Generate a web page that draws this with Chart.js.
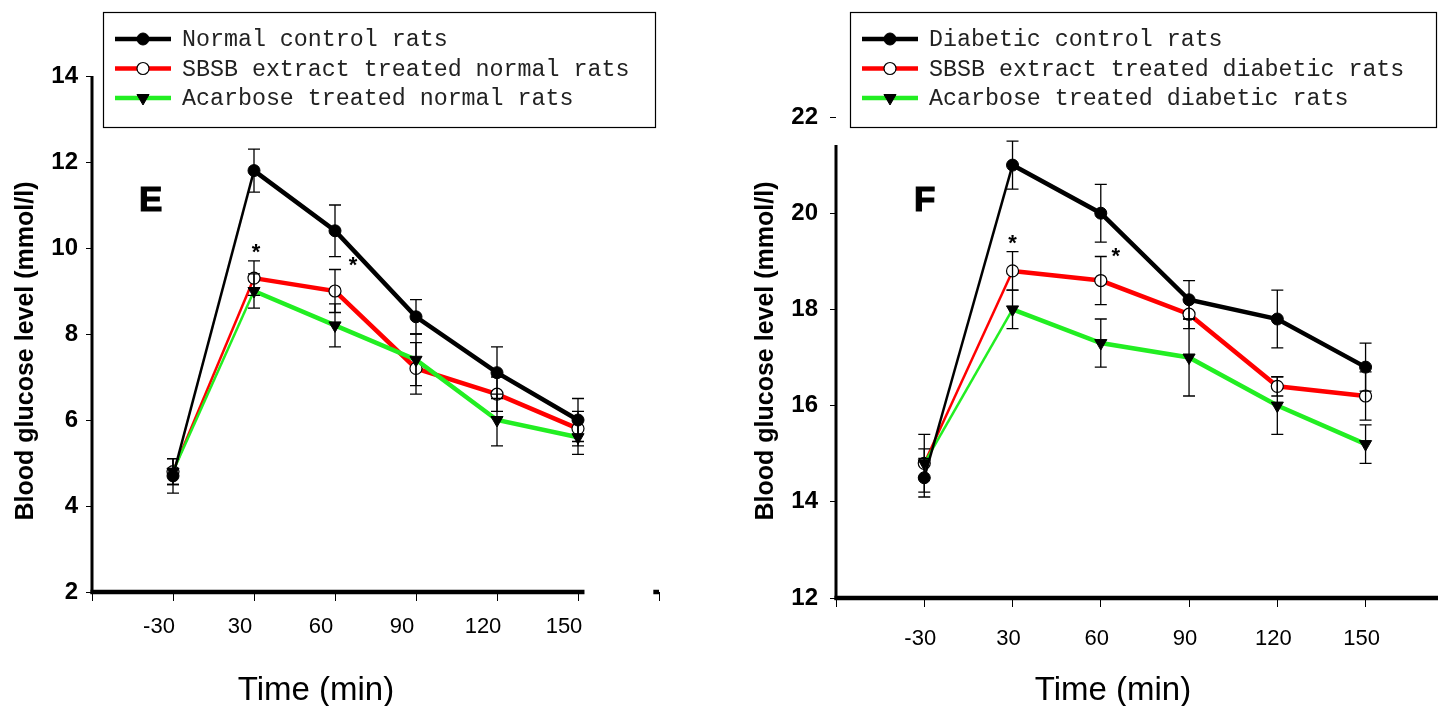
<!DOCTYPE html>
<html>
<head>
<meta charset="utf-8">
<script src="https://cdn.jsdelivr.net/npm/chart.js@4.4.1/dist/chart.umd.min.js"></script>
<style>
  html, body { margin: 0; padding: 0; background: #fff; }
  body { width: 1438px; height: 706px; position: relative; overflow: hidden; }
  .panel { position: absolute; top: 0; height: 706px; }
  #panelE { left: 0; width: 700px; }
  #panelF { left: 720px; width: 718px; }
</style>
</head>
<body>
<div class="panel" id="panelE"><canvas id="chartE" width="700" height="706"></canvas></div>
<div class="panel" id="panelF"><canvas id="chartF" width="718" height="706"></canvas></div>
<script>
// time points (min)
var timeLabels = ['-30', '30', '60', '90', '120', '150'];

// panel E - normal rats
var normalControl = [4.7, 11.8, 10.4, 8.4, 7.1, 6.0];
var normalControlErr = [0.4, 0.5, 0.6, 0.4, 0.6, 0.5];
var normalSbsb = [4.8, 9.3, 9.0, 7.2, 6.6, 5.8];
var normalSbsbErr = [0.3, 0.4, 0.5, 0.6, 0.4, 0.4];
var normalAcarbose = [4.8, 9.0, 8.2, 7.4, 6.0, 5.6];
var normalAcarboseErr = [0.3, 0.4, 0.5, 0.6, 0.6, 0.4];
var normalTicks = [2, 4, 6, 8, 10, 12, 14];

// panel F - diabetic rats
var diabeticControl = [14.5, 21.0, 20.0, 18.2, 17.8, 16.8];
var diabeticControlErr = [0.4, 0.5, 0.6, 0.4, 0.6, 0.5];
var diabeticSbsb = [14.8, 18.8, 18.6, 17.9, 16.4, 16.2];
var diabeticSbsbErr = [0.3, 0.4, 0.5, 0.3, 0.2, 0.5];
var diabeticAcarbose = [14.8, 18.0, 17.3, 17.0, 16.0, 15.2];
var diabeticAcarboseErr = [0.6, 0.4, 0.5, 0.8, 0.6, 0.4];
var diabeticTicks = [12, 14, 16, 18, 20, 22];

// significant points (index into timeLabels) marked with *
var starIndexes = [1, 2];

var legendE = ['Normal control rats', 'SBSB extract treated normal rats', 'Acarbose treated normal rats'];
var legendF = ['Diabetic control rats', 'SBSB extract treated diabetic rats', 'Acarbose treated diabetic rats'];

function toPoints(values) {
    return values.map(function(v, i) { return { x: i + 1, y: v }; });
}

// first segment (from -30) is drawn thinner in the original
function segWidth(ctx) {
    return ctx.p0DataIndex === 0 ? 2.5 : 4.5;
}

function makeDatasets(control, controlErr, sbsb, sbsbErr, acarbose, acarboseErr, names) {
    return [
        {
            label: names[0], data: toPoints(control), errors: controlErr,
            borderColor: '#000000', backgroundColor: '#000000', order: 0,
            pointStyle: 'circle', pointRadius: 6, pointBorderWidth: 1,
            pointBorderColor: '#000', pointBackgroundColor: '#000'
        },
        {
            label: names[1], data: toPoints(sbsb), errors: sbsbErr,
            borderColor: '#ff0000', backgroundColor: '#ff0000', order: 2,
            pointStyle: 'circle', pointRadius: 6, pointBorderWidth: 1.2,
            pointBorderColor: '#000', pointBackgroundColor: '#fff'
        },
        {
            label: names[2], data: toPoints(acarbose), errors: acarboseErr,
            borderColor: '#22ee22', backgroundColor: '#22ee22', order: 1,
            pointStyle: 'triangle', pointRotation: 180, pointRadius: 7, pointBorderWidth: 1,
            pointBorderColor: '#000', pointBackgroundColor: '#000'
        }
    ];
}

var errorBars = {
    id: 'errorBars',
    afterDatasetsDraw: function(chart) {
        var ctx = chart.ctx;
        var xs = chart.scales.x, ys = chart.scales.y;
        ctx.save();
        ctx.strokeStyle = '#000';
        ctx.lineWidth = 1.3;
        chart.data.datasets.forEach(function(ds) {
            ds.data.forEach(function(p, i) {
                var e = ds.errors[i];
                var x = xs.getPixelForValue(p.x);
                var yTop = ys.getPixelForValue(p.y + e);
                var yBot = ys.getPixelForValue(p.y - e);
                ctx.beginPath();
                ctx.moveTo(x, yTop); ctx.lineTo(x, yBot);
                ctx.moveTo(x - 6, yTop); ctx.lineTo(x + 6, yTop);
                ctx.moveTo(x - 6, yBot); ctx.lineTo(x + 6, yBot);
                ctx.stroke();
            });
        });
        ctx.restore();
    }
};

var panelDecor = {
    id: 'panelDecor',
    afterDraw: function(chart, args, opts) {
        var ctx = chart.ctx;
        var xs = chart.scales.x, ys = chart.scales.y;
        var area = chart.chartArea;
        ctx.save();

        // axis lines
        ctx.strokeStyle = '#000';
        ctx.lineWidth = 3;
        ctx.beginPath();
        ctx.moveTo(area.left, ys.getPixelForValue(opts.yTop));
        ctx.lineTo(area.left, area.bottom + 2);
        ctx.stroke();
        ctx.lineWidth = 4.5;
        ctx.beginPath();
        ctx.moveTo(area.left - 1.5, area.bottom);
        ctx.lineTo(opts.xEnd === null ? chart.width : xs.getPixelForValue(opts.xEnd), area.bottom);
        if (opts.stub) {
            ctx.moveTo(xs.getPixelForValue(opts.stub[0]), area.bottom);
            ctx.lineTo(xs.getPixelForValue(opts.stub[1]), area.bottom);
        }
        ctx.stroke();

        // legend box
        var lb = opts.legendBox;
        ctx.strokeStyle = '#000';
        ctx.lineWidth = 1.2;
        ctx.strokeRect(lb[0] + 0.5, lb[1] + 0.5, lb[2], lb[3]);
        ctx.font = '23.3px "Liberation Mono", "Courier New", monospace';
        ctx.textBaseline = 'middle';
        ctx.textAlign = 'left';
        chart.data.datasets.forEach(function(ds, i) {
            var y = lb[1] + 27 + i * 29.5;
            var x0 = lb[0] + 12;
            ctx.strokeStyle = ds.borderColor;
            ctx.lineWidth = 4.5;
            ctx.beginPath();
            ctx.moveTo(x0, y); ctx.lineTo(x0 + 56, y);
            ctx.stroke();
            ctx.fillStyle = ds.pointBackgroundColor;
            ctx.strokeStyle = ds.pointBorderColor;
            ctx.lineWidth = ds.pointBorderWidth;
            Chart.helpers.drawPoint(ctx, {
                pointStyle: ds.pointStyle, radius: ds.pointRadius,
                rotation: ds.pointRotation || 0, borderWidth: ds.pointBorderWidth
            }, x0 + 28, y);
            ctx.fillStyle = '#222';
            ctx.fillText(opts.names[i], x0 + 67, y + 1);
        });

        // panel letter
        ctx.fillStyle = '#000';
        ctx.strokeStyle = '#000';
        ctx.font = 'bold 35px "Liberation Sans", Arial, sans-serif';
        ctx.textBaseline = 'middle';
        ctx.fillText(opts.letter, opts.letterPos[0], opts.letterPos[1]);
        ctx.lineWidth = 1.2;
        ctx.strokeText(opts.letter, opts.letterPos[0], opts.letterPos[1]);

        // significance stars above the SBSB error bars
        var sb = chart.data.datasets[1];
        ctx.font = 'bold 22px "Liberation Sans", Arial, sans-serif';
        ctx.textAlign = 'center';
        starIndexes.forEach(function(idx, k) {
            var p = sb.data[idx];
            var x = xs.getPixelForValue(p.x) + opts.starDx[k];
            var y = ys.getPixelForValue(p.y + sb.errors[idx]) + opts.starDy[k];
            ctx.fillText('*', x, y);
        });

        // axis titles
        ctx.font = '33px "Liberation Sans", Arial, sans-serif';
        ctx.textAlign = 'center';
        ctx.textBaseline = 'alphabetic';
        ctx.fillText('Time (min)', opts.xTitle[0], opts.xTitle[1]);
        ctx.translate(opts.yTitle[0], opts.yTitle[1]);
        ctx.rotate(-Math.PI / 2);
        ctx.font = 'bold 25px "Liberation Sans", Arial, sans-serif';
        ctx.fillText('Blood glucose level (mmol/l)', 0, 0);
        ctx.restore();
    }
};

function makeChart(canvasId, datasets, yMin, yMax, yTicks, xMax, leftWidth, bottomHeight, padding, yLabelPad, xLabelPad, xLabelShift, decor) {
    return new Chart(document.getElementById(canvasId), {
        type: 'line',
        data: { datasets: datasets },
        plugins: [errorBars, panelDecor],
        options: {
            responsive: false,
            animation: false,
            layout: { padding: padding },
            elements: { line: { borderWidth: 4.5, tension: 0 } },
            datasets: { line: { segment: { borderWidth: segWidth }, clip: false } },
            plugins: {
                legend: { display: false },
                tooltip: { enabled: false },
                panelDecor: decor
            },
            scales: {
                x: {
                    type: 'linear', min: 0, max: xMax,
                    afterFit: function(scale) { scale.height = bottomHeight; },
                    afterBuildTicks: function(scale) {
                        var t = [];
                        for (var v = 0; v <= Math.floor(xMax); v++) t.push({ value: v });
                        scale.ticks = t;
                    },
                    border: { display: false },
                    grid: { drawOnChartArea: false, drawTicks: true, tickLength: 9, color: '#000', lineWidth: 1 },
                    ticks: {
                        color: '#000', padding: xLabelPad, labelOffset: xLabelShift, maxRotation: 0, autoSkip: false,
                        font: { family: '"Liberation Sans", Arial, sans-serif', size: 22 },
                        callback: function(v) { return timeLabels[v - 1] || ''; }
                    }
                },
                y: {
                    min: yMin, max: yMax,
                    afterFit: function(scale) { scale.width = leftWidth; },
                    afterBuildTicks: function(scale) {
                        scale.ticks = yTicks.map(function(v) { return { value: v }; });
                    },
                    border: { display: false },
                    grid: { drawOnChartArea: false, drawTicks: true, tickLength: 6, color: '#000', lineWidth: 1 },
                    ticks: {
                        color: '#000', padding: yLabelPad,
                        font: { family: '"Liberation Sans", Arial, sans-serif', size: 24, weight: 'bold' }
                    }
                }
            }
        }
    });
}

makeChart('chartE',
    makeDatasets(normalControl, normalControlErr, normalSbsb, normalSbsbErr, normalAcarbose, normalAcarboseErr, legendE),
    2, 14, normalTicks, 7, 92, 114, { top: 76, right: 41, left: 0, bottom: 0 }, 8, 13, -14,
    {
        yTop: 14, xEnd: 6.08, stub: [6.93, 7.0],
        legendBox: [103, 12, 552, 115], names: legendE,
        letter: 'E', letterPos: [139, 201],
        starDx: [2, 18], starDy: [-8, -4],
        xTitle: [316, 700], yTitle: [33, 351]
    });

makeChart('chartF',
    makeDatasets(diabeticControl, diabeticControlErr, diabeticSbsb, diabeticSbsbErr, diabeticAcarbose, diabeticAcarboseErr, legendF),
    12, 22, diabeticTicks, 6.73, 116, 108, { top: 117, right: 0, left: 0, bottom: 0 }, 12, 19, -4,
    {
        yTop: 21.42, xEnd: null,
        legendBox: [130, 12, 586, 115], names: legendF,
        letter: 'F', letterPos: [194, 201],
        starDx: [0, 15], starDy: [-8, 0],
        xTitle: [393, 700], yTitle: [53, 351]
    });
</script>
</body>
</html>
